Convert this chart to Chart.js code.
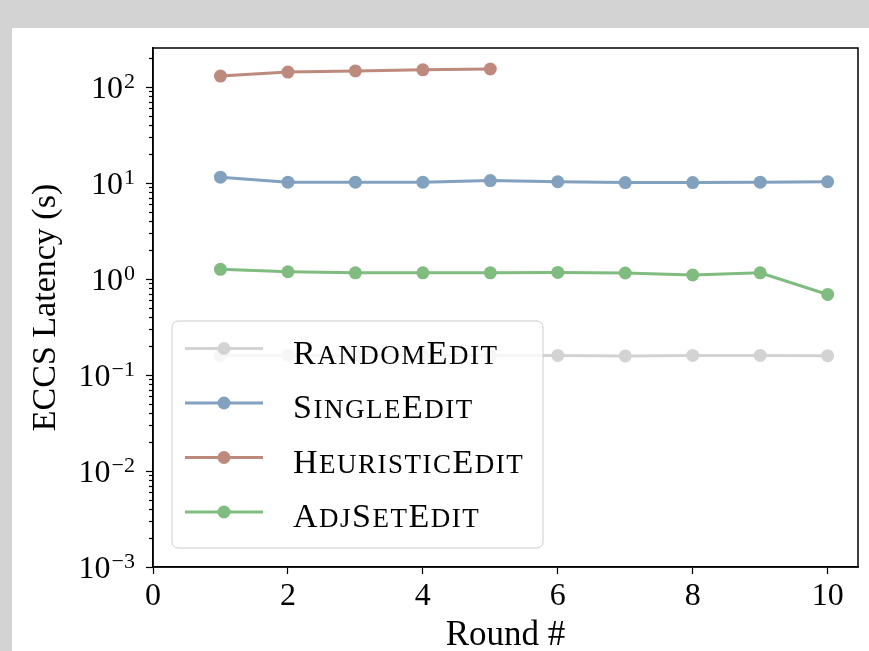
<!DOCTYPE html>
<html><head><meta charset="utf-8">
<script src="https://cdn.jsdelivr.net/npm/chart.js@4.4.0/dist/chart.umd.min.js"></script>
<style>
html,body{margin:0;padding:0;background:#d3d3d3;width:869px;height:651px;overflow:hidden}
#wrap{position:absolute;left:12px;top:28px;width:857px;height:623px;background:#fff}
canvas{display:block}
</style></head><body>
<div id="wrap"><canvas id="c" width="857" height="623"></canvas></div>
<script>
// ---- data ----
const rounds = [1, 2, 3, 4, 5, 6, 7, 8, 9, 10];
const heuristicRounds = [1, 2, 3, 4, 5];
const randomEdit = [0.16, 0.16, 0.16, 0.16, 0.16, 0.16, 0.158, 0.16, 0.16, 0.159];
const singleEdit = [11.5, 10.2, 10.2, 10.2, 10.6, 10.3, 10.1, 10.1, 10.2, 10.3];
const heuristicEdit = [130, 143, 147, 151, 154];
const adjSetEdit = [1.26, 1.19, 1.16, 1.16, 1.16, 1.17, 1.155, 1.10, 1.16, 0.69];
const seriesNames = ['RandomEdit', 'SingleEdit', 'HeuristicEdit', 'AdjSetEdit'];
const seriesColors = ['#d3d3d3', '#82a1be', '#be8a7d', '#80bc80'];
const xTickValues = [0, 2, 4, 6, 8, 10];
const yDecades = [-3, -2, -1, 0, 1, 2];
const xTitle = 'Round #';
const yTitle = 'ECCS Latency (s)';

const FONT = "'Liberation Serif', 'DejaVu Serif', serif";

function pts(xs, ys) { return xs.map((x, i) => ({ x: x, y: ys[i] })); }
const seriesData = [pts(rounds, randomEdit), pts(rounds, singleEdit), pts(heuristicRounds, heuristicEdit), pts(rounds, adjSetEdit)];

const datasets = seriesNames.map((n, i) => ({
  label: n,
  data: seriesData[i],
  borderColor: seriesColors[i],
  backgroundColor: seriesColors[i],
  pointBackgroundColor: seriesColors[i],
  borderWidth: 3,
  pointRadius: 6.5,
  pointBorderWidth: 0,
  pointHoverRadius: 6.5,
  tension: 0,
  fill: false,
  order: i
}));

// draw text in small caps: capitals full size, lowercase as smaller capitals
function drawSmallCaps(ctx, text, x, y, big, small) {
  let cx = x;
  for (const ch of text) {
    const isLower = ch !== ch.toUpperCase();
    ctx.font = (isLower ? small : big) + 'px ' + FONT;
    const c = isLower ? ch.toUpperCase() : ch;
    ctx.fillText(c, cx, y);
    cx += ctx.measureText(c).width + 1.5;
  }
}

const framePlugin = {
  id: 'frame',
  afterDraw(chart) {
    const { ctx, chartArea: a } = chart;
    const ys = chart.scales.y;
    ctx.save();
    ctx.strokeStyle = '#000';
    ctx.lineWidth = 1.2;
    ys.ticks.forEach(t => {
      const p = Math.round(ys.getPixelForValue(t.value)) + 0.5;
      const major = Math.abs(Math.log10(t.value) - Math.round(Math.log10(t.value))) < 1e-9;
      ctx.beginPath();
      ctx.moveTo(a.left, p);
      ctx.lineTo(a.left - (major ? 7 : 4), p);
      ctx.stroke();
    });
    ctx.fillStyle = '#000';
    ctx.textBaseline = 'alphabetic';
    yDecades.forEach(d => {
      const p = ys.getPixelForValue(Math.pow(10, d));
      const exp = d < 0 ? '\u2212' + Math.abs(d) : String(d);
      ctx.font = '22px ' + FONT;
      const ew = ctx.measureText(exp).width;
      const right = a.left - 18;
      ctx.textAlign = 'right';
      ctx.fillText(exp, right, p + 1);
      ctx.font = '32px ' + FONT;
      ctx.fillText('10', right - ew - 1, p + 11);
    });
    ctx.lineWidth = 1.5;
    ctx.strokeStyle = '#000';
    ctx.strokeRect(a.left, a.top, a.right - a.left, a.bottom - a.top);
    ctx.restore();
  },
  afterDatasetsDraw(chart) {
    const { ctx, chartArea: a } = chart;
    const L = a.left + 19, W = 371, H = 227, T = a.bottom - 19 - H, r = 6;
    ctx.save();
    ctx.beginPath();
    ctx.moveTo(L + r, T);
    ctx.arcTo(L + W, T, L + W, T + H, r);
    ctx.arcTo(L + W, T + H, L, T + H, r);
    ctx.arcTo(L, T + H, L, T, r);
    ctx.arcTo(L, T, L + W, T, r);
    ctx.closePath();
    ctx.fillStyle = 'rgba(255,255,255,0.8)';
    ctx.fill();
    ctx.strokeStyle = '#cccccc';
    ctx.lineWidth = 1;
    ctx.stroke();
    chart.data.datasets.forEach((ds, i) => {
      const cy = T + 27.5 + i * 54.5;
      ctx.strokeStyle = ds.borderColor;
      ctx.lineWidth = 3;
      ctx.beginPath();
      ctx.moveTo(L + 13, cy);
      ctx.lineTo(L + 91, cy);
      ctx.stroke();
      ctx.fillStyle = ds.borderColor;
      ctx.beginPath();
      ctx.arc(L + 52, cy, 6.5, 0, Math.PI * 2);
      ctx.fill();
      ctx.fillStyle = '#000';
      ctx.textAlign = 'left';
      ctx.textBaseline = 'alphabetic';
      drawSmallCaps(ctx, ds.label, L + 121, cy + 15, 34, 27);
    });
    ctx.restore();
  }
};

new Chart(document.getElementById('c'), {
  type: 'line',
  data: { datasets: datasets },
  options: {
    responsive: false,
    animation: false,
    devicePixelRatio: 1,
    layout: { padding: { top: 20, right: 11, left: 0, bottom: 0 } },
    plugins: { legend: { display: false }, tooltip: { enabled: false } },
    scales: {
      x: {
        type: 'linear',
        min: 0,
        max: 10.45,
        afterBuildTicks: s => { s.ticks = xTickValues.map(v => ({ value: v })); },
        afterFit: s => { s.height = 84; },
        ticks: { font: { size: 32, family: FONT }, color: '#000', padding: 3, maxRotation: 0, autoSkip: false },
        grid: { drawOnChartArea: false, drawTicks: true, tickLength: 7, tickWidth: 1.2, tickColor: '#000' },
        border: { display: true, color: '#000', width: 1.5 },
        title: { display: true, text: xTitle, color: '#000', font: { size: 35, family: FONT, lineHeight: 0.8 }, padding: { top: 0, bottom: 1 } }
      },
      y: {
        type: 'logarithmic',
        min: 1e-3,
        max: 254.7,
        afterBuildTicks: s => {
          const t = [];
          yDecades.forEach(d => {
            for (let m = 1; m <= 9; m++) {
              const v = m * Math.pow(10, d);
              if (v <= 254.7) t.push({ value: v });
            }
          });
          s.ticks = t;
        },
        afterFit: s => { s.width = 141; },
        ticks: { display: false },
        grid: { display: false },
        border: { display: true, color: '#000', width: 1.5 },
        title: { display: true, text: yTitle, color: '#000', font: { size: 34, family: FONT, lineHeight: 0.8 }, padding: { top: 20, bottom: 0 } }
      }
    }
  },
  plugins: [framePlugin]
});
</script>
</body></html>
